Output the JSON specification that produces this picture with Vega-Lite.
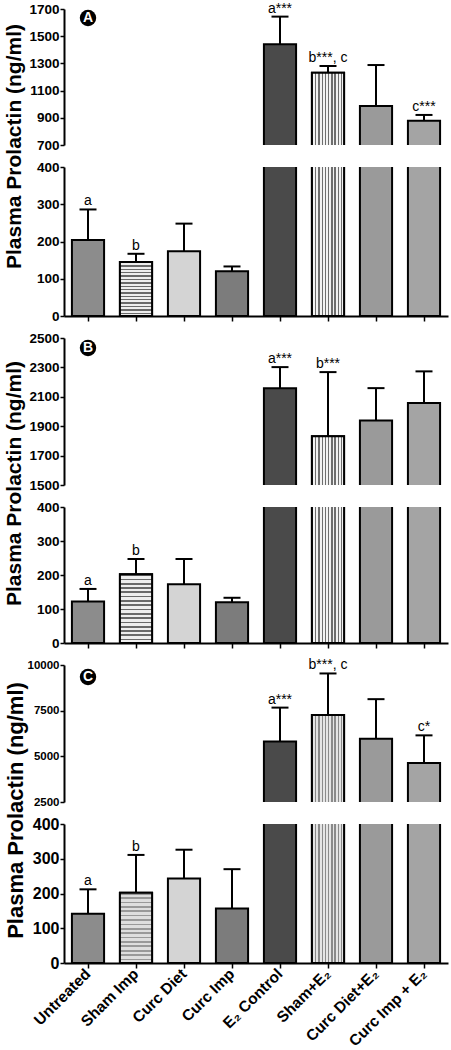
{
  "$schema": "https://vega.github.io/schema/vega-lite/v6.json",
  "background": "white",
  "padding": {"left": 2, "top": 1, "right": 2, "bottom": 0},
  "spacing": 22,
  "bounds": "flush",
  "config": {
    "font": "Liberation Sans",
    "view": {"stroke": null},
    "axis": {
      "labelFont": "Liberation Sans", "labelFontWeight": "bold", "labelColor": "#000",
      "domainColor": "#000", "tickColor": "#000", "domainWidth": 2, "tickWidth": 1.5,
      "grid": false, "titleFont": "Liberation Sans", "titleFontWeight": "bold", "titleColor": "#000",
      "labelPadding": 1, "tickSize": 4, "labelOverlap": false, "labelBound": false
    }
  },
  "datasets": {
    "prl": [
      {"panel": "A", "group": "Untreated", "mean": 204, "err": 286, "label": "a"},
      {"panel": "A", "group": "Sham Imp", "mean": 145, "err": 167, "label": "b"},
      {"panel": "A", "group": "Curc Diet", "mean": 174, "err": 248, "label": ""},
      {"panel": "A", "group": "Curc Imp", "mean": 120, "err": 133, "label": ""},
      {"panel": "A", "group": "E₂ Control", "mean": 1440, "err": 1644, "label": "a***"},
      {"panel": "A", "group": "Sham+E₂", "mean": 1232, "err": 1281, "label": "b***, c"},
      {"panel": "A", "group": "Curc Diet+E₂", "mean": 987, "err": 1288, "label": ""},
      {"panel": "A", "group": "Curc Imp + E₂", "mean": 879, "err": 921, "label": "c***"},
      {"panel": "B", "group": "Untreated", "mean": 122, "err": 159, "label": "a"},
      {"panel": "B", "group": "Sham Imp", "mean": 202, "err": 247, "label": "b"},
      {"panel": "B", "group": "Curc Diet", "mean": 173, "err": 247, "label": ""},
      {"panel": "B", "group": "Curc Imp", "mean": 120, "err": 133, "label": ""},
      {"panel": "B", "group": "E₂ Control", "mean": 2159, "err": 2302, "label": "a***"},
      {"panel": "B", "group": "Sham+E₂", "mean": 1832, "err": 2268, "label": "b***"},
      {"panel": "B", "group": "Curc Diet+E₂", "mean": 1939, "err": 2159, "label": ""},
      {"panel": "B", "group": "Curc Imp + E₂", "mean": 2057, "err": 2273, "label": ""},
      {"panel": "C", "group": "Untreated", "mean": 142, "err": 212, "label": "a"},
      {"panel": "C", "group": "Sham Imp", "mean": 202, "err": 311, "label": "b"},
      {"panel": "C", "group": "Curc Diet", "mean": 243, "err": 326, "label": ""},
      {"panel": "C", "group": "Curc Imp", "mean": 157, "err": 270, "label": ""},
      {"panel": "C", "group": "E₂ Control", "mean": 5815, "err": 7667, "label": "a***"},
      {"panel": "C", "group": "Sham+E₂", "mean": 7259, "err": 9537, "label": "b***, c"},
      {"panel": "C", "group": "Curc Diet+E₂", "mean": 5963, "err": 8130, "label": ""},
      {"panel": "C", "group": "Curc Imp + E₂", "mean": 4630, "err": 6148, "label": "c*"}
    ]
  },
  "vconcat": [
    {
      "width": 384, "height": 136,
      "data": {"name": "prl"},
      "transform": [{"filter": "datum.panel == 'A'"}],
      "encoding": {"x": {"field": "group", "type": "nominal", "sort": null, "scale": {"paddingInner": 0.33, "paddingOuter": 0.165}, "axis": null}},
      "layer": [
        {"mark": {"type": "bar", "clip": true, "stroke": "#000", "strokeWidth": 2},
         "encoding": {
           "y": {"field": "mean", "type": "quantitative", "scale": {"domain": [700, 1700], "nice": false, "zero": false}, "axis": {"values": [700, 900, 1100, 1300, 1500, 1700], "tickCount": 30, "format": "d", "title": null, "labelFontSize": 13.5}},
           "y2": {"datum": 0},
           "fill": {"field": "group", "type": "nominal", "scale": {"domain": ["Untreated","Sham Imp","Curc Diet","Curc Imp","E₂ Control","Sham+E₂","Curc Diet+E₂","Curc Imp + E₂"], "range": ["#8c8c8c","#b4b4b4","#d4d4d4","#7c7c7c","#4a4a4a","#b0b0b0","#9a9a9a","#a4a4a4"]}, "legend": null}}},
        {"transform": [{"filter": "datum.group == 'Sham+E₂'"}],
         "mark": {"type": "bar", "clip": true, "stroke": "#000", "strokeWidth": 2,
           "fill": {"gradient": "linear", "x1": 0, "y1": 0, "x2": 1, "y2": 0, "stops": [
             {"offset": 0, "color": "#6e6e6e"}, {"offset": 0.04, "color": "#6e6e6e"}, {"offset": 0.04, "color": "#f2f2f2"}, {"offset": 0.1, "color": "#f2f2f2"},
             {"offset": 0.1, "color": "#6e6e6e"}, {"offset": 0.14, "color": "#6e6e6e"}, {"offset": 0.14, "color": "#f2f2f2"}, {"offset": 0.2, "color": "#f2f2f2"},
             {"offset": 0.2, "color": "#6e6e6e"}, {"offset": 0.24, "color": "#6e6e6e"}, {"offset": 0.24, "color": "#f2f2f2"}, {"offset": 0.3, "color": "#f2f2f2"},
             {"offset": 0.3, "color": "#6e6e6e"}, {"offset": 0.34, "color": "#6e6e6e"}, {"offset": 0.34, "color": "#f2f2f2"}, {"offset": 0.4, "color": "#f2f2f2"},
             {"offset": 0.4, "color": "#6e6e6e"}, {"offset": 0.44, "color": "#6e6e6e"}, {"offset": 0.44, "color": "#f2f2f2"}, {"offset": 0.5, "color": "#f2f2f2"},
             {"offset": 0.5, "color": "#6e6e6e"}, {"offset": 0.54, "color": "#6e6e6e"}, {"offset": 0.54, "color": "#f2f2f2"}, {"offset": 0.6, "color": "#f2f2f2"},
             {"offset": 0.6, "color": "#6e6e6e"}, {"offset": 0.64, "color": "#6e6e6e"}, {"offset": 0.64, "color": "#f2f2f2"}, {"offset": 0.7, "color": "#f2f2f2"},
             {"offset": 0.7, "color": "#6e6e6e"}, {"offset": 0.74, "color": "#6e6e6e"}, {"offset": 0.74, "color": "#f2f2f2"}, {"offset": 0.8, "color": "#f2f2f2"},
             {"offset": 0.8, "color": "#6e6e6e"}, {"offset": 0.84, "color": "#6e6e6e"}, {"offset": 0.84, "color": "#f2f2f2"}, {"offset": 0.9, "color": "#f2f2f2"},
             {"offset": 0.9, "color": "#6e6e6e"}, {"offset": 0.94, "color": "#6e6e6e"}, {"offset": 0.94, "color": "#f2f2f2"}, {"offset": 1, "color": "#f2f2f2"}]}},
         "encoding": {"y": {"field": "mean", "type": "quantitative"}, "y2": {"datum": 0}}},
        {"mark": {"type": "rule", "clip": true, "strokeWidth": 2, "color": "#000"}, "encoding": {"y": {"field": "mean", "type": "quantitative"}, "y2": {"field": "err"}}},
        {"mark": {"type": "tick", "clip": true, "thickness": 2, "size": 17, "color": "#000", "opacity": 1}, "encoding": {"y": {"field": "err", "type": "quantitative"}}},
        {"transform": [{"filter": "datum.mean > 400 && datum.label != ''"}], "mark": {"type": "text", "baseline": "alphabetic", "dy": -4, "fontSize": 14, "color": "#000"}, "encoding": {"y": {"field": "err", "type": "quantitative"}, "text": {"field": "label"}}},
        {"transform": [{"filter": "datum.group == 'Untreated'"}], "mark": {"type": "circle", "size": 270, "color": "#000", "opacity": 1}, "encoding": {"x": {"datum": "Untreated"}, "y": {"datum": 1634}}},
        {"transform": [{"filter": "datum.group == 'Untreated'"}], "mark": {"type": "text", "color": "#fff", "fontWeight": "bold", "fontSize": 14, "baseline": "middle"}, "encoding": {"x": {"datum": "Untreated"}, "y": {"datum": 1634}, "text": {"value": "A"}}}
      ]
    },
    {
      "width": 384, "height": 149,
      "data": {"name": "prl"},
      "transform": [{"filter": "datum.panel == 'A'"}],
      "encoding": {"x": {"field": "group", "type": "nominal", "sort": null, "scale": {"paddingInner": 0.33, "paddingOuter": 0.165}, "axis": {"labels": false, "title": null, "tickSize": 5, "tickWidth": 1.5}}},
      "layer": [
        {"mark": {"type": "bar", "clip": true, "stroke": "#000", "strokeWidth": 2},
         "encoding": {
           "y": {"field": "mean", "type": "quantitative", "scale": {"domain": [0, 400], "nice": false}, "axis": {"values": [0, 100, 200, 300, 400], "tickCount": 30, "format": "d", "labelFontSize": 13.5, "title": "Plasma Prolactin (ng/ml)", "titleFontSize": 21, "titleAngle": 270, "titleAlign": "center", "titleBaseline": "middle", "titleX": -50, "titleY": -21}},
           "y2": {"datum": 0},
           "fill": {"field": "group", "type": "nominal", "scale": {"domain": ["Untreated","Sham Imp","Curc Diet","Curc Imp","E₂ Control","Sham+E₂","Curc Diet+E₂","Curc Imp + E₂"], "range": ["#8c8c8c","#b4b4b4","#d4d4d4","#7c7c7c","#4a4a4a","#b0b0b0","#9a9a9a","#a4a4a4"]}, "legend": null}}},
        {"transform": [{"filter": "datum.group == 'Sham+E₂'"}],
         "mark": {"type": "bar", "clip": true, "stroke": "#000", "strokeWidth": 2,
           "fill": {"gradient": "linear", "x1": 0, "y1": 0, "x2": 1, "y2": 0, "stops": [
             {"offset": 0, "color": "#6e6e6e"}, {"offset": 0.04, "color": "#6e6e6e"}, {"offset": 0.04, "color": "#f2f2f2"}, {"offset": 0.1, "color": "#f2f2f2"},
             {"offset": 0.1, "color": "#6e6e6e"}, {"offset": 0.14, "color": "#6e6e6e"}, {"offset": 0.14, "color": "#f2f2f2"}, {"offset": 0.2, "color": "#f2f2f2"},
             {"offset": 0.2, "color": "#6e6e6e"}, {"offset": 0.24, "color": "#6e6e6e"}, {"offset": 0.24, "color": "#f2f2f2"}, {"offset": 0.3, "color": "#f2f2f2"},
             {"offset": 0.3, "color": "#6e6e6e"}, {"offset": 0.34, "color": "#6e6e6e"}, {"offset": 0.34, "color": "#f2f2f2"}, {"offset": 0.4, "color": "#f2f2f2"},
             {"offset": 0.4, "color": "#6e6e6e"}, {"offset": 0.44, "color": "#6e6e6e"}, {"offset": 0.44, "color": "#f2f2f2"}, {"offset": 0.5, "color": "#f2f2f2"},
             {"offset": 0.5, "color": "#6e6e6e"}, {"offset": 0.54, "color": "#6e6e6e"}, {"offset": 0.54, "color": "#f2f2f2"}, {"offset": 0.6, "color": "#f2f2f2"},
             {"offset": 0.6, "color": "#6e6e6e"}, {"offset": 0.64, "color": "#6e6e6e"}, {"offset": 0.64, "color": "#f2f2f2"}, {"offset": 0.7, "color": "#f2f2f2"},
             {"offset": 0.7, "color": "#6e6e6e"}, {"offset": 0.74, "color": "#6e6e6e"}, {"offset": 0.74, "color": "#f2f2f2"}, {"offset": 0.8, "color": "#f2f2f2"},
             {"offset": 0.8, "color": "#6e6e6e"}, {"offset": 0.84, "color": "#6e6e6e"}, {"offset": 0.84, "color": "#f2f2f2"}, {"offset": 0.9, "color": "#f2f2f2"},
             {"offset": 0.9, "color": "#6e6e6e"}, {"offset": 0.94, "color": "#6e6e6e"}, {"offset": 0.94, "color": "#f2f2f2"}, {"offset": 1, "color": "#f2f2f2"}]}},
         "encoding": {"y": {"field": "mean", "type": "quantitative"}, "y2": {"datum": 0}}},
        {"transform": [{"filter": "datum.group == 'Sham Imp'"}],
         "mark": {"type": "bar", "clip": true, "stroke": "#000", "strokeWidth": 2,
           "fill": {"gradient": "linear", "x1": 0, "y1": 0, "x2": 0, "y2": 1, "stops": [
             {"offset": 0, "color": "#6a6a6a"}, {"offset": 0.025, "color": "#6a6a6a"}, {"offset": 0.025, "color": "#eeeeee"}, {"offset": 0.0625, "color": "#eeeeee"},
             {"offset": 0.0625, "color": "#6a6a6a"}, {"offset": 0.0875, "color": "#6a6a6a"}, {"offset": 0.0875, "color": "#eeeeee"}, {"offset": 0.125, "color": "#eeeeee"},
             {"offset": 0.125, "color": "#6a6a6a"}, {"offset": 0.15, "color": "#6a6a6a"}, {"offset": 0.15, "color": "#eeeeee"}, {"offset": 0.1875, "color": "#eeeeee"},
             {"offset": 0.1875, "color": "#6a6a6a"}, {"offset": 0.2125, "color": "#6a6a6a"}, {"offset": 0.2125, "color": "#eeeeee"}, {"offset": 0.25, "color": "#eeeeee"},
             {"offset": 0.25, "color": "#6a6a6a"}, {"offset": 0.275, "color": "#6a6a6a"}, {"offset": 0.275, "color": "#eeeeee"}, {"offset": 0.3125, "color": "#eeeeee"},
             {"offset": 0.3125, "color": "#6a6a6a"}, {"offset": 0.3375, "color": "#6a6a6a"}, {"offset": 0.3375, "color": "#eeeeee"}, {"offset": 0.375, "color": "#eeeeee"},
             {"offset": 0.375, "color": "#6a6a6a"}, {"offset": 0.4, "color": "#6a6a6a"}, {"offset": 0.4, "color": "#eeeeee"}, {"offset": 0.4375, "color": "#eeeeee"},
             {"offset": 0.4375, "color": "#6a6a6a"}, {"offset": 0.4625, "color": "#6a6a6a"}, {"offset": 0.4625, "color": "#eeeeee"}, {"offset": 0.5, "color": "#eeeeee"},
             {"offset": 0.5, "color": "#6a6a6a"}, {"offset": 0.525, "color": "#6a6a6a"}, {"offset": 0.525, "color": "#eeeeee"}, {"offset": 0.5625, "color": "#eeeeee"},
             {"offset": 0.5625, "color": "#6a6a6a"}, {"offset": 0.5875, "color": "#6a6a6a"}, {"offset": 0.5875, "color": "#eeeeee"}, {"offset": 0.625, "color": "#eeeeee"},
             {"offset": 0.625, "color": "#6a6a6a"}, {"offset": 0.65, "color": "#6a6a6a"}, {"offset": 0.65, "color": "#eeeeee"}, {"offset": 0.6875, "color": "#eeeeee"},
             {"offset": 0.6875, "color": "#6a6a6a"}, {"offset": 0.7125, "color": "#6a6a6a"}, {"offset": 0.7125, "color": "#eeeeee"}, {"offset": 0.75, "color": "#eeeeee"},
             {"offset": 0.75, "color": "#6a6a6a"}, {"offset": 0.775, "color": "#6a6a6a"}, {"offset": 0.775, "color": "#eeeeee"}, {"offset": 0.8125, "color": "#eeeeee"},
             {"offset": 0.8125, "color": "#6a6a6a"}, {"offset": 0.8375, "color": "#6a6a6a"}, {"offset": 0.8375, "color": "#eeeeee"}, {"offset": 0.875, "color": "#eeeeee"},
             {"offset": 0.875, "color": "#6a6a6a"}, {"offset": 0.9, "color": "#6a6a6a"}, {"offset": 0.9, "color": "#eeeeee"}, {"offset": 0.9375, "color": "#eeeeee"},
             {"offset": 0.9375, "color": "#6a6a6a"}, {"offset": 0.9625, "color": "#6a6a6a"}, {"offset": 0.9625, "color": "#eeeeee"}, {"offset": 1, "color": "#eeeeee"}]}},
         "encoding": {"y": {"field": "mean", "type": "quantitative"}, "y2": {"datum": 0}}},
        {"mark": {"type": "rule", "clip": true, "strokeWidth": 2, "color": "#000"}, "encoding": {"y": {"field": "mean", "type": "quantitative"}, "y2": {"field": "err"}}},
        {"mark": {"type": "tick", "clip": true, "thickness": 2, "size": 17, "color": "#000", "opacity": 1}, "encoding": {"y": {"field": "err", "type": "quantitative"}}},
        {"transform": [{"filter": "datum.err < 400 && datum.label != ''"}], "mark": {"type": "text", "baseline": "alphabetic", "dy": -4, "fontSize": 14, "color": "#000"}, "encoding": {"y": {"field": "err", "type": "quantitative"}, "text": {"field": "label"}}}
      ]
    },
    {
      "width": 384, "height": 147,
      "data": {"name": "prl"},
      "transform": [{"filter": "datum.panel == 'B'"}],
      "encoding": {"x": {"field": "group", "type": "nominal", "sort": null, "scale": {"paddingInner": 0.33, "paddingOuter": 0.165}, "axis": null}},
      "layer": [
        {"mark": {"type": "bar", "clip": true, "stroke": "#000", "strokeWidth": 2},
         "encoding": {
           "y": {"field": "mean", "type": "quantitative", "scale": {"domain": [1500, 2500], "nice": false, "zero": false}, "axis": {"values": [1500, 1700, 1900, 2100, 2300, 2500], "tickCount": 30, "format": "d", "title": null, "labelFontSize": 13.5}},
           "y2": {"datum": 0},
           "fill": {"field": "group", "type": "nominal", "scale": {"domain": ["Untreated","Sham Imp","Curc Diet","Curc Imp","E₂ Control","Sham+E₂","Curc Diet+E₂","Curc Imp + E₂"], "range": ["#8c8c8c","#b4b4b4","#d4d4d4","#7c7c7c","#4a4a4a","#b0b0b0","#9a9a9a","#a4a4a4"]}, "legend": null}}},
        {"transform": [{"filter": "datum.group == 'Sham+E₂'"}],
         "mark": {"type": "bar", "clip": true, "stroke": "#000", "strokeWidth": 2,
           "fill": {"gradient": "linear", "x1": 0, "y1": 0, "x2": 1, "y2": 0, "stops": [
             {"offset": 0, "color": "#6e6e6e"}, {"offset": 0.04, "color": "#6e6e6e"}, {"offset": 0.04, "color": "#f2f2f2"}, {"offset": 0.1, "color": "#f2f2f2"},
             {"offset": 0.1, "color": "#6e6e6e"}, {"offset": 0.14, "color": "#6e6e6e"}, {"offset": 0.14, "color": "#f2f2f2"}, {"offset": 0.2, "color": "#f2f2f2"},
             {"offset": 0.2, "color": "#6e6e6e"}, {"offset": 0.24, "color": "#6e6e6e"}, {"offset": 0.24, "color": "#f2f2f2"}, {"offset": 0.3, "color": "#f2f2f2"},
             {"offset": 0.3, "color": "#6e6e6e"}, {"offset": 0.34, "color": "#6e6e6e"}, {"offset": 0.34, "color": "#f2f2f2"}, {"offset": 0.4, "color": "#f2f2f2"},
             {"offset": 0.4, "color": "#6e6e6e"}, {"offset": 0.44, "color": "#6e6e6e"}, {"offset": 0.44, "color": "#f2f2f2"}, {"offset": 0.5, "color": "#f2f2f2"},
             {"offset": 0.5, "color": "#6e6e6e"}, {"offset": 0.54, "color": "#6e6e6e"}, {"offset": 0.54, "color": "#f2f2f2"}, {"offset": 0.6, "color": "#f2f2f2"},
             {"offset": 0.6, "color": "#6e6e6e"}, {"offset": 0.64, "color": "#6e6e6e"}, {"offset": 0.64, "color": "#f2f2f2"}, {"offset": 0.7, "color": "#f2f2f2"},
             {"offset": 0.7, "color": "#6e6e6e"}, {"offset": 0.74, "color": "#6e6e6e"}, {"offset": 0.74, "color": "#f2f2f2"}, {"offset": 0.8, "color": "#f2f2f2"},
             {"offset": 0.8, "color": "#6e6e6e"}, {"offset": 0.84, "color": "#6e6e6e"}, {"offset": 0.84, "color": "#f2f2f2"}, {"offset": 0.9, "color": "#f2f2f2"},
             {"offset": 0.9, "color": "#6e6e6e"}, {"offset": 0.94, "color": "#6e6e6e"}, {"offset": 0.94, "color": "#f2f2f2"}, {"offset": 1, "color": "#f2f2f2"}]}},
         "encoding": {"y": {"field": "mean", "type": "quantitative"}, "y2": {"datum": 0}}},
        {"mark": {"type": "rule", "clip": true, "strokeWidth": 2, "color": "#000"}, "encoding": {"y": {"field": "mean", "type": "quantitative"}, "y2": {"field": "err"}}},
        {"mark": {"type": "tick", "clip": true, "thickness": 2, "size": 17, "color": "#000", "opacity": 1}, "encoding": {"y": {"field": "err", "type": "quantitative"}}},
        {"transform": [{"filter": "datum.mean > 400 && datum.label != ''"}], "mark": {"type": "text", "baseline": "alphabetic", "dy": -4, "fontSize": 14, "color": "#000"}, "encoding": {"y": {"field": "err", "type": "quantitative"}, "text": {"field": "label"}}},
        {"transform": [{"filter": "datum.group == 'Untreated'"}], "mark": {"type": "circle", "size": 270, "color": "#000", "opacity": 1}, "encoding": {"x": {"datum": "Untreated"}, "y": {"datum": 2432}}},
        {"transform": [{"filter": "datum.group == 'Untreated'"}], "mark": {"type": "text", "color": "#fff", "fontWeight": "bold", "fontSize": 14, "baseline": "middle"}, "encoding": {"x": {"datum": "Untreated"}, "y": {"datum": 2432}, "text": {"value": "B"}}}
      ]
    },
    {
      "width": 384, "height": 136,
      "data": {"name": "prl"},
      "transform": [{"filter": "datum.panel == 'B'"}],
      "encoding": {"x": {"field": "group", "type": "nominal", "sort": null, "scale": {"paddingInner": 0.33, "paddingOuter": 0.165}, "axis": {"labels": false, "title": null, "tickSize": 5, "tickWidth": 1.5}}},
      "layer": [
        {"mark": {"type": "bar", "clip": true, "stroke": "#000", "strokeWidth": 2},
         "encoding": {
           "y": {"field": "mean", "type": "quantitative", "scale": {"domain": [0, 400], "nice": false}, "axis": {"values": [0, 100, 200, 300, 400], "tickCount": 30, "format": "d", "labelFontSize": 13.5, "title": "Plasma Prolactin (ng/ml)", "titleFontSize": 21, "titleAngle": 270, "titleAlign": "center", "titleBaseline": "middle", "titleX": -50, "titleY": -24}},
           "y2": {"datum": 0},
           "fill": {"field": "group", "type": "nominal", "scale": {"domain": ["Untreated","Sham Imp","Curc Diet","Curc Imp","E₂ Control","Sham+E₂","Curc Diet+E₂","Curc Imp + E₂"], "range": ["#8c8c8c","#b4b4b4","#d4d4d4","#7c7c7c","#4a4a4a","#b0b0b0","#9a9a9a","#a4a4a4"]}, "legend": null}}},
        {"transform": [{"filter": "datum.group == 'Sham+E₂'"}],
         "mark": {"type": "bar", "clip": true, "stroke": "#000", "strokeWidth": 2,
           "fill": {"gradient": "linear", "x1": 0, "y1": 0, "x2": 1, "y2": 0, "stops": [
             {"offset": 0, "color": "#6e6e6e"}, {"offset": 0.04, "color": "#6e6e6e"}, {"offset": 0.04, "color": "#f2f2f2"}, {"offset": 0.1, "color": "#f2f2f2"},
             {"offset": 0.1, "color": "#6e6e6e"}, {"offset": 0.14, "color": "#6e6e6e"}, {"offset": 0.14, "color": "#f2f2f2"}, {"offset": 0.2, "color": "#f2f2f2"},
             {"offset": 0.2, "color": "#6e6e6e"}, {"offset": 0.24, "color": "#6e6e6e"}, {"offset": 0.24, "color": "#f2f2f2"}, {"offset": 0.3, "color": "#f2f2f2"},
             {"offset": 0.3, "color": "#6e6e6e"}, {"offset": 0.34, "color": "#6e6e6e"}, {"offset": 0.34, "color": "#f2f2f2"}, {"offset": 0.4, "color": "#f2f2f2"},
             {"offset": 0.4, "color": "#6e6e6e"}, {"offset": 0.44, "color": "#6e6e6e"}, {"offset": 0.44, "color": "#f2f2f2"}, {"offset": 0.5, "color": "#f2f2f2"},
             {"offset": 0.5, "color": "#6e6e6e"}, {"offset": 0.54, "color": "#6e6e6e"}, {"offset": 0.54, "color": "#f2f2f2"}, {"offset": 0.6, "color": "#f2f2f2"},
             {"offset": 0.6, "color": "#6e6e6e"}, {"offset": 0.64, "color": "#6e6e6e"}, {"offset": 0.64, "color": "#f2f2f2"}, {"offset": 0.7, "color": "#f2f2f2"},
             {"offset": 0.7, "color": "#6e6e6e"}, {"offset": 0.74, "color": "#6e6e6e"}, {"offset": 0.74, "color": "#f2f2f2"}, {"offset": 0.8, "color": "#f2f2f2"},
             {"offset": 0.8, "color": "#6e6e6e"}, {"offset": 0.84, "color": "#6e6e6e"}, {"offset": 0.84, "color": "#f2f2f2"}, {"offset": 0.9, "color": "#f2f2f2"},
             {"offset": 0.9, "color": "#6e6e6e"}, {"offset": 0.94, "color": "#6e6e6e"}, {"offset": 0.94, "color": "#f2f2f2"}, {"offset": 1, "color": "#f2f2f2"}]}},
         "encoding": {"y": {"field": "mean", "type": "quantitative"}, "y2": {"datum": 0}}},
        {"transform": [{"filter": "datum.group == 'Sham Imp'"}],
         "mark": {"type": "bar", "clip": true, "stroke": "#000", "strokeWidth": 2,
           "fill": {"gradient": "linear", "x1": 0, "y1": 0, "x2": 0, "y2": 1, "stops": [
             {"offset": 0, "color": "#6a6a6a"}, {"offset": 0.025, "color": "#6a6a6a"}, {"offset": 0.025, "color": "#eeeeee"}, {"offset": 0.0625, "color": "#eeeeee"},
             {"offset": 0.0625, "color": "#6a6a6a"}, {"offset": 0.0875, "color": "#6a6a6a"}, {"offset": 0.0875, "color": "#eeeeee"}, {"offset": 0.125, "color": "#eeeeee"},
             {"offset": 0.125, "color": "#6a6a6a"}, {"offset": 0.15, "color": "#6a6a6a"}, {"offset": 0.15, "color": "#eeeeee"}, {"offset": 0.1875, "color": "#eeeeee"},
             {"offset": 0.1875, "color": "#6a6a6a"}, {"offset": 0.2125, "color": "#6a6a6a"}, {"offset": 0.2125, "color": "#eeeeee"}, {"offset": 0.25, "color": "#eeeeee"},
             {"offset": 0.25, "color": "#6a6a6a"}, {"offset": 0.275, "color": "#6a6a6a"}, {"offset": 0.275, "color": "#eeeeee"}, {"offset": 0.3125, "color": "#eeeeee"},
             {"offset": 0.3125, "color": "#6a6a6a"}, {"offset": 0.3375, "color": "#6a6a6a"}, {"offset": 0.3375, "color": "#eeeeee"}, {"offset": 0.375, "color": "#eeeeee"},
             {"offset": 0.375, "color": "#6a6a6a"}, {"offset": 0.4, "color": "#6a6a6a"}, {"offset": 0.4, "color": "#eeeeee"}, {"offset": 0.4375, "color": "#eeeeee"},
             {"offset": 0.4375, "color": "#6a6a6a"}, {"offset": 0.4625, "color": "#6a6a6a"}, {"offset": 0.4625, "color": "#eeeeee"}, {"offset": 0.5, "color": "#eeeeee"},
             {"offset": 0.5, "color": "#6a6a6a"}, {"offset": 0.525, "color": "#6a6a6a"}, {"offset": 0.525, "color": "#eeeeee"}, {"offset": 0.5625, "color": "#eeeeee"},
             {"offset": 0.5625, "color": "#6a6a6a"}, {"offset": 0.5875, "color": "#6a6a6a"}, {"offset": 0.5875, "color": "#eeeeee"}, {"offset": 0.625, "color": "#eeeeee"},
             {"offset": 0.625, "color": "#6a6a6a"}, {"offset": 0.65, "color": "#6a6a6a"}, {"offset": 0.65, "color": "#eeeeee"}, {"offset": 0.6875, "color": "#eeeeee"},
             {"offset": 0.6875, "color": "#6a6a6a"}, {"offset": 0.7125, "color": "#6a6a6a"}, {"offset": 0.7125, "color": "#eeeeee"}, {"offset": 0.75, "color": "#eeeeee"},
             {"offset": 0.75, "color": "#6a6a6a"}, {"offset": 0.775, "color": "#6a6a6a"}, {"offset": 0.775, "color": "#eeeeee"}, {"offset": 0.8125, "color": "#eeeeee"},
             {"offset": 0.8125, "color": "#6a6a6a"}, {"offset": 0.8375, "color": "#6a6a6a"}, {"offset": 0.8375, "color": "#eeeeee"}, {"offset": 0.875, "color": "#eeeeee"},
             {"offset": 0.875, "color": "#6a6a6a"}, {"offset": 0.9, "color": "#6a6a6a"}, {"offset": 0.9, "color": "#eeeeee"}, {"offset": 0.9375, "color": "#eeeeee"},
             {"offset": 0.9375, "color": "#6a6a6a"}, {"offset": 0.9625, "color": "#6a6a6a"}, {"offset": 0.9625, "color": "#eeeeee"}, {"offset": 1, "color": "#eeeeee"}]}},
         "encoding": {"y": {"field": "mean", "type": "quantitative"}, "y2": {"datum": 0}}},
        {"mark": {"type": "rule", "clip": true, "strokeWidth": 2, "color": "#000"}, "encoding": {"y": {"field": "mean", "type": "quantitative"}, "y2": {"field": "err"}}},
        {"mark": {"type": "tick", "clip": true, "thickness": 2, "size": 17, "color": "#000", "opacity": 1}, "encoding": {"y": {"field": "err", "type": "quantitative"}}},
        {"transform": [{"filter": "datum.err < 400 && datum.label != ''"}], "mark": {"type": "text", "baseline": "alphabetic", "dy": -4, "fontSize": 14, "color": "#000"}, "encoding": {"y": {"field": "err", "type": "quantitative"}, "text": {"field": "label"}}}
      ]
    },
    {
      "width": 384, "height": 137,
      "data": {"name": "prl"},
      "transform": [{"filter": "datum.panel == 'C'"}],
      "encoding": {"x": {"field": "group", "type": "nominal", "sort": null, "scale": {"paddingInner": 0.33, "paddingOuter": 0.165}, "axis": null}},
      "layer": [
        {"mark": {"type": "bar", "clip": true, "stroke": "#000", "strokeWidth": 2},
         "encoding": {
           "y": {"field": "mean", "type": "quantitative", "scale": {"domain": [2500, 10000], "nice": false, "zero": false}, "axis": {"values": [2500, 5000, 7500, 10000], "tickCount": 30, "format": "d", "title": null, "labelFontSize": 11.5}},
           "y2": {"datum": 0},
           "fill": {"field": "group", "type": "nominal", "scale": {"domain": ["Untreated","Sham Imp","Curc Diet","Curc Imp","E₂ Control","Sham+E₂","Curc Diet+E₂","Curc Imp + E₂"], "range": ["#6e6e6e","#b8b8b8","#d6d6d6","#a6a6a6","#6a6a6a","#bdbdbd","#7a7a7a","#a0a0a0"]}, "legend": null}}},
        {"transform": [{"filter": "datum.group == 'Sham+E₂'"}],
         "mark": {"type": "bar", "clip": true, "stroke": "#000", "strokeWidth": 2,
           "fill": {"gradient": "linear", "x1": 0, "y1": 0, "x2": 1, "y2": 0, "stops": [
             {"offset": 0, "color": "#8a8a8a"}, {"offset": 0.04, "color": "#8a8a8a"}, {"offset": 0.04, "color": "#e4e4e4"}, {"offset": 0.1, "color": "#e4e4e4"},
             {"offset": 0.1, "color": "#8a8a8a"}, {"offset": 0.14, "color": "#8a8a8a"}, {"offset": 0.14, "color": "#e4e4e4"}, {"offset": 0.2, "color": "#e4e4e4"},
             {"offset": 0.2, "color": "#8a8a8a"}, {"offset": 0.24, "color": "#8a8a8a"}, {"offset": 0.24, "color": "#e4e4e4"}, {"offset": 0.3, "color": "#e4e4e4"},
             {"offset": 0.3, "color": "#8a8a8a"}, {"offset": 0.34, "color": "#8a8a8a"}, {"offset": 0.34, "color": "#e4e4e4"}, {"offset": 0.4, "color": "#e4e4e4"},
             {"offset": 0.4, "color": "#8a8a8a"}, {"offset": 0.44, "color": "#8a8a8a"}, {"offset": 0.44, "color": "#e4e4e4"}, {"offset": 0.5, "color": "#e4e4e4"},
             {"offset": 0.5, "color": "#8a8a8a"}, {"offset": 0.54, "color": "#8a8a8a"}, {"offset": 0.54, "color": "#e4e4e4"}, {"offset": 0.6, "color": "#e4e4e4"},
             {"offset": 0.6, "color": "#8a8a8a"}, {"offset": 0.64, "color": "#8a8a8a"}, {"offset": 0.64, "color": "#e4e4e4"}, {"offset": 0.7, "color": "#e4e4e4"},
             {"offset": 0.7, "color": "#8a8a8a"}, {"offset": 0.74, "color": "#8a8a8a"}, {"offset": 0.74, "color": "#e4e4e4"}, {"offset": 0.8, "color": "#e4e4e4"},
             {"offset": 0.8, "color": "#8a8a8a"}, {"offset": 0.84, "color": "#8a8a8a"}, {"offset": 0.84, "color": "#e4e4e4"}, {"offset": 0.9, "color": "#e4e4e4"},
             {"offset": 0.9, "color": "#8a8a8a"}, {"offset": 0.94, "color": "#8a8a8a"}, {"offset": 0.94, "color": "#e4e4e4"}, {"offset": 1, "color": "#e4e4e4"}]}},
         "encoding": {"y": {"field": "mean", "type": "quantitative"}, "y2": {"datum": 0}}},
        {"mark": {"type": "rule", "clip": true, "strokeWidth": 2, "color": "#000"}, "encoding": {"y": {"field": "mean", "type": "quantitative"}, "y2": {"field": "err"}}},
        {"mark": {"type": "tick", "clip": true, "thickness": 2, "size": 17, "color": "#000", "opacity": 1}, "encoding": {"y": {"field": "err", "type": "quantitative"}}},
        {"transform": [{"filter": "datum.mean > 400 && datum.label != ''"}], "mark": {"type": "text", "baseline": "alphabetic", "dy": -4, "fontSize": 14, "color": "#000"}, "encoding": {"y": {"field": "err", "type": "quantitative"}, "text": {"field": "label"}}},
        {"transform": [{"filter": "datum.group == 'Untreated'"}], "mark": {"type": "circle", "size": 270, "color": "#000", "opacity": 1}, "encoding": {"x": {"datum": "Untreated"}, "y": {"datum": 9343}}},
        {"transform": [{"filter": "datum.group == 'Untreated'"}], "mark": {"type": "text", "color": "#fff", "fontWeight": "bold", "fontSize": 14, "baseline": "middle"}, "encoding": {"x": {"datum": "Untreated"}, "y": {"datum": 9343}, "text": {"value": "C"}}}
      ]
    },
    {
      "width": 384, "height": 139,
      "data": {"name": "prl"},
      "transform": [{"filter": "datum.panel == 'C'"}],
      "encoding": {"x": {"field": "group", "type": "nominal", "sort": null, "scale": {"paddingInner": 0.33, "paddingOuter": 0.165}, "axis": {"title": null, "tickSize": 5, "tickWidth": 1.5, "labelAngle": -45, "labelAlign": "right", "labelBaseline": "middle", "labelFontSize": 15.5, "labelPadding": 3}}},
      "layer": [
        {"mark": {"type": "bar", "clip": true, "stroke": "#000", "strokeWidth": 2},
         "encoding": {
           "y": {"field": "mean", "type": "quantitative", "scale": {"domain": [0, 400], "nice": false}, "axis": {"values": [0, 100, 200, 300, 400], "tickCount": 30, "format": "d", "labelFontSize": 16, "title": "Plasma Prolactin (ng/ml)", "titleFontSize": 22, "titleAngle": 270, "titleAlign": "center", "titleBaseline": "middle", "titleX": -49, "titleY": -14}},
           "y2": {"datum": 0},
           "fill": {"field": "group", "type": "nominal", "scale": {"domain": ["Untreated","Sham Imp","Curc Diet","Curc Imp","E₂ Control","Sham+E₂","Curc Diet+E₂","Curc Imp + E₂"], "range": ["#6e6e6e","#b8b8b8","#d6d6d6","#a6a6a6","#6a6a6a","#bdbdbd","#7a7a7a","#a0a0a0"]}, "legend": null}}},
        {"transform": [{"filter": "datum.group == 'Sham+E₂'"}],
         "mark": {"type": "bar", "clip": true, "stroke": "#000", "strokeWidth": 2,
           "fill": {"gradient": "linear", "x1": 0, "y1": 0, "x2": 1, "y2": 0, "stops": [
             {"offset": 0, "color": "#8a8a8a"}, {"offset": 0.04, "color": "#8a8a8a"}, {"offset": 0.04, "color": "#e4e4e4"}, {"offset": 0.1, "color": "#e4e4e4"},
             {"offset": 0.1, "color": "#8a8a8a"}, {"offset": 0.14, "color": "#8a8a8a"}, {"offset": 0.14, "color": "#e4e4e4"}, {"offset": 0.2, "color": "#e4e4e4"},
             {"offset": 0.2, "color": "#8a8a8a"}, {"offset": 0.24, "color": "#8a8a8a"}, {"offset": 0.24, "color": "#e4e4e4"}, {"offset": 0.3, "color": "#e4e4e4"},
             {"offset": 0.3, "color": "#8a8a8a"}, {"offset": 0.34, "color": "#8a8a8a"}, {"offset": 0.34, "color": "#e4e4e4"}, {"offset": 0.4, "color": "#e4e4e4"},
             {"offset": 0.4, "color": "#8a8a8a"}, {"offset": 0.44, "color": "#8a8a8a"}, {"offset": 0.44, "color": "#e4e4e4"}, {"offset": 0.5, "color": "#e4e4e4"},
             {"offset": 0.5, "color": "#8a8a8a"}, {"offset": 0.54, "color": "#8a8a8a"}, {"offset": 0.54, "color": "#e4e4e4"}, {"offset": 0.6, "color": "#e4e4e4"},
             {"offset": 0.6, "color": "#8a8a8a"}, {"offset": 0.64, "color": "#8a8a8a"}, {"offset": 0.64, "color": "#e4e4e4"}, {"offset": 0.7, "color": "#e4e4e4"},
             {"offset": 0.7, "color": "#8a8a8a"}, {"offset": 0.74, "color": "#8a8a8a"}, {"offset": 0.74, "color": "#e4e4e4"}, {"offset": 0.8, "color": "#e4e4e4"},
             {"offset": 0.8, "color": "#8a8a8a"}, {"offset": 0.84, "color": "#8a8a8a"}, {"offset": 0.84, "color": "#e4e4e4"}, {"offset": 0.9, "color": "#e4e4e4"},
             {"offset": 0.9, "color": "#8a8a8a"}, {"offset": 0.94, "color": "#8a8a8a"}, {"offset": 0.94, "color": "#e4e4e4"}, {"offset": 1, "color": "#e4e4e4"}]}},
         "encoding": {"y": {"field": "mean", "type": "quantitative"}, "y2": {"datum": 0}}},
        {"transform": [{"filter": "datum.group == 'Sham Imp'"}],
         "mark": {"type": "bar", "clip": true, "stroke": "#000", "strokeWidth": 2,
           "fill": {"gradient": "linear", "x1": 0, "y1": 0, "x2": 0, "y2": 1, "stops": [
             {"offset": 0, "color": "#999999"}, {"offset": 0.025, "color": "#999999"}, {"offset": 0.025, "color": "#dedede"}, {"offset": 0.0625, "color": "#dedede"},
             {"offset": 0.0625, "color": "#999999"}, {"offset": 0.0875, "color": "#999999"}, {"offset": 0.0875, "color": "#dedede"}, {"offset": 0.125, "color": "#dedede"},
             {"offset": 0.125, "color": "#999999"}, {"offset": 0.15, "color": "#999999"}, {"offset": 0.15, "color": "#dedede"}, {"offset": 0.1875, "color": "#dedede"},
             {"offset": 0.1875, "color": "#999999"}, {"offset": 0.2125, "color": "#999999"}, {"offset": 0.2125, "color": "#dedede"}, {"offset": 0.25, "color": "#dedede"},
             {"offset": 0.25, "color": "#999999"}, {"offset": 0.275, "color": "#999999"}, {"offset": 0.275, "color": "#dedede"}, {"offset": 0.3125, "color": "#dedede"},
             {"offset": 0.3125, "color": "#999999"}, {"offset": 0.3375, "color": "#999999"}, {"offset": 0.3375, "color": "#dedede"}, {"offset": 0.375, "color": "#dedede"},
             {"offset": 0.375, "color": "#999999"}, {"offset": 0.4, "color": "#999999"}, {"offset": 0.4, "color": "#dedede"}, {"offset": 0.4375, "color": "#dedede"},
             {"offset": 0.4375, "color": "#999999"}, {"offset": 0.4625, "color": "#999999"}, {"offset": 0.4625, "color": "#dedede"}, {"offset": 0.5, "color": "#dedede"},
             {"offset": 0.5, "color": "#999999"}, {"offset": 0.525, "color": "#999999"}, {"offset": 0.525, "color": "#dedede"}, {"offset": 0.5625, "color": "#dedede"},
             {"offset": 0.5625, "color": "#999999"}, {"offset": 0.5875, "color": "#999999"}, {"offset": 0.5875, "color": "#dedede"}, {"offset": 0.625, "color": "#dedede"},
             {"offset": 0.625, "color": "#999999"}, {"offset": 0.65, "color": "#999999"}, {"offset": 0.65, "color": "#dedede"}, {"offset": 0.6875, "color": "#dedede"},
             {"offset": 0.6875, "color": "#999999"}, {"offset": 0.7125, "color": "#999999"}, {"offset": 0.7125, "color": "#dedede"}, {"offset": 0.75, "color": "#dedede"},
             {"offset": 0.75, "color": "#999999"}, {"offset": 0.775, "color": "#999999"}, {"offset": 0.775, "color": "#dedede"}, {"offset": 0.8125, "color": "#dedede"},
             {"offset": 0.8125, "color": "#999999"}, {"offset": 0.8375, "color": "#999999"}, {"offset": 0.8375, "color": "#dedede"}, {"offset": 0.875, "color": "#dedede"},
             {"offset": 0.875, "color": "#999999"}, {"offset": 0.9, "color": "#999999"}, {"offset": 0.9, "color": "#dedede"}, {"offset": 0.9375, "color": "#dedede"},
             {"offset": 0.9375, "color": "#999999"}, {"offset": 0.9625, "color": "#999999"}, {"offset": 0.9625, "color": "#dedede"}, {"offset": 1, "color": "#dedede"}]}},
         "encoding": {"y": {"field": "mean", "type": "quantitative"}, "y2": {"datum": 0}}},
        {"mark": {"type": "rule", "clip": true, "strokeWidth": 2, "color": "#000"}, "encoding": {"y": {"field": "mean", "type": "quantitative"}, "y2": {"field": "err"}}},
        {"mark": {"type": "tick", "clip": true, "thickness": 2, "size": 17, "color": "#000", "opacity": 1}, "encoding": {"y": {"field": "err", "type": "quantitative"}}},
        {"transform": [{"filter": "datum.err < 400 && datum.label != ''"}], "mark": {"type": "text", "baseline": "alphabetic", "dy": -4, "fontSize": 14, "color": "#000"}, "encoding": {"y": {"field": "err", "type": "quantitative"}, "text": {"field": "label"}}}
      ]
    }
  ]
}
